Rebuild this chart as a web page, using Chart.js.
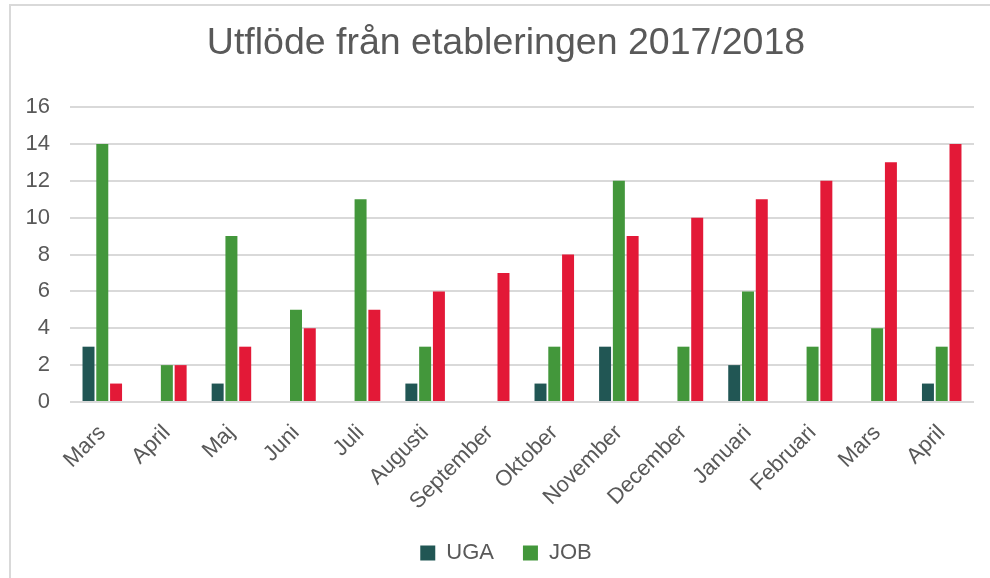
<!DOCTYPE html>
<html>
<head>
<meta charset="utf-8">
<script src="https://cdn.jsdelivr.net/npm/chart.js@4/dist/chart.umd.min.js"></script>
<style>
  html, body { margin: 0; padding: 0; background: #fff; }
  #wrap { position: absolute; left: 0; top: 0; width: 990px; height: 578px; }
  #frame { position: absolute; left: 9px; top: 4px; right: -5px; bottom: -5px;
           border-left: 2px solid #d9d9d9; border-top: 2px solid #d9d9d9; pointer-events: none; }
</style>
</head>
<body>
<div id="wrap">
  <canvas id="c" width="990" height="578"></canvas>
  <div id="frame"></div>
</div>
<script>
const titleText = 'Utflöde från etableringen 2017/2018';
const categories = ['Mars', 'April', 'Maj', 'Juni', 'Juli', 'Augusti', 'September', 'Oktober', 'November', 'December', 'Januari', 'Februari', 'Mars', 'April'];
const ugaValues = [3, 0, 1, 0, 0, 1, 0, 1, 3, 0, 2, 0, 0, 1];
const jobValues = [14, 2, 9, 5, 11, 3, 0, 3, 12, 3, 6, 3, 4, 3];
const thirdValues = [1, 2, 3, 4, 5, 6, 7, 8, 9, 10, 11, 12, 13, 14];
const seriesLabels = ['UGA', 'JOB', ''];
const yTicks = [0, 2, 4, 6, 8, 10, 12, 14, 16];

const FONT = "'Liberation Sans', Arial, sans-serif";
const TXT = '#595959';
const GRID = '#d9d9d9';

const noLabelClip = {
  id: 'noLabelClip',
  beforeDraw(chart) {
    const y = chart.scales.y;
    if (y) y._computeLabelArea = () => undefined;
  }
};

new Chart(document.getElementById('c'), {
  type: 'bar',
  data: {
    labels: categories,
    datasets: [
      { label: seriesLabels[0], data: ugaValues, backgroundColor: '#215654' },
      { label: seriesLabels[1], data: jobValues, backgroundColor: '#43973b' },
      { label: seriesLabels[2], data: thirdValues, backgroundColor: '#e31937' }
    ]
  },
  plugins: [noLabelClip],
  options: {
    responsive: false,
    animation: false,
    devicePixelRatio: 1,
    layout: { padding: { left: 38, right: 16, top: 0, bottom: 4 } },
    datasets: { bar: { categoryPercentage: 0.64, barPercentage: 0.87 } },
    plugins: {
      title: {
        display: true, text: titleText, color: TXT,
        font: { family: FONT, size: 37.5, weight: 'normal' },
        padding: { top: 21, bottom: 41 }
      },
      legend: {
        position: 'bottom',
        labels: {
          color: TXT, font: { family: FONT, size: 22 },
          boxWidth: 15, boxHeight: 15, padding: 29,
          filter: (item) => item.datasetIndex < 2
        }
      },
      tooltip: { enabled: false }
    },
    scales: {
      x: {
        grid: { display: false },
        border: { display: false },
        afterFit: (s) => { s.height = 111; },
        ticks: { color: TXT, font: { family: FONT, size: 22 }, minRotation: 45, maxRotation: 45, padding: 10, autoSkip: false }
      },
      y: {
        min: 0, max: 16,
        afterBuildTicks: (s) => { s.ticks = yTicks.map(v => ({ value: v })); },
        afterFit: (s) => { s.width = 32; },
        grid: { color: GRID, lineWidth: 2, drawTicks: false },
        border: { display: false },
        ticks: { color: TXT, font: { family: FONT, size: 22 }, padding: 20 }
      }
    }
  }
});
</script>
</body>
</html>
